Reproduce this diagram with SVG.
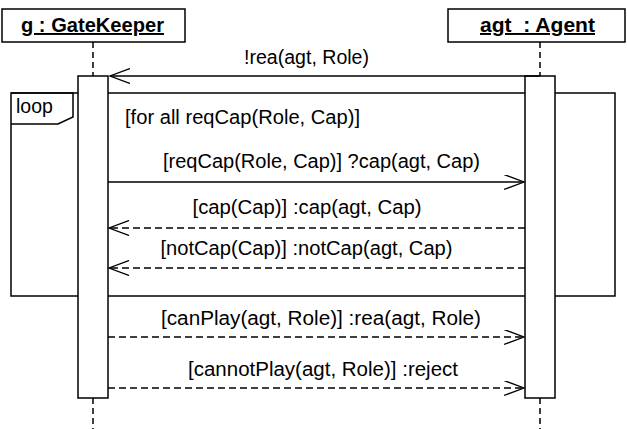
<svg xmlns="http://www.w3.org/2000/svg" width="627" height="429" viewBox="0 0 627 429">
<defs>
<style>
text{font-family:"Liberation Sans",Arial,sans-serif;font-size:19.5px;fill:#000}
.title{font-weight:bold;text-decoration:underline}
.box{fill:#fff;stroke:#000;stroke-width:1.5}
.life{stroke:#000;stroke-width:1.5;stroke-dasharray:6 4;fill:none}
.msg{stroke:#000;stroke-width:1.3;fill:none}
.ret{stroke:#000;stroke-width:1.3;fill:none;stroke-dasharray:7 4}
.frame{fill:none;stroke:#000;stroke-width:1.5}
</style>
<marker id="open" markerWidth="22" markerHeight="16" refX="20" refY="7.5" orient="auto" markerUnits="userSpaceOnUse">
<path d="M0,0 L20,7.5 L0,15" fill="none" stroke="#000" stroke-width="1.3"/>
</marker>
</defs>
<rect width="627" height="429" fill="#fff"/>
<g id="gatekeeper">
<rect class="box" x="2" y="9" width="183" height="33"/>
<text class="title" x="92.5" y="32" text-anchor="middle" textLength="143" lengthAdjust="spacingAndGlyphs">g : GateKeeper</text>
<line class="life" x1="93" y1="42" x2="93" y2="76"/>
<line class="life" x1="93" y1="398" x2="93" y2="429"/>
</g>
<g id="agent">
<rect class="box" x="448" y="9" width="177" height="33"/>
<text class="title" x="537.5" y="32" text-anchor="middle" xml:space="preserve" textLength="115" lengthAdjust="spacingAndGlyphs">agt  : Agent</text>
<line class="life" x1="540" y1="42" x2="540" y2="76"/>
<line class="life" x1="540" y1="398" x2="540" y2="429"/>
</g>
<g id="loop">
<rect class="frame" x="11" y="93" width="604" height="203"/>
<path class="frame" d="M11,93 L73,93 L73,117 L58,124 L11,124"/>
<text x="16" y="113">loop</text>
<text x="125" y="124" textLength="235" lengthAdjust="spacingAndGlyphs">[for all reqCap(Role, Cap)]</text>
</g>
<g id="gatekeeper-activation">
<rect class="box" x="78" y="76" width="30" height="322"/>
</g>
<g id="agent-activation">
<rect class="box" x="525" y="76" width="30" height="322"/>
</g>
<g id="connectors">
<line class="msg" x1="540" y1="76" x2="110" y2="76" marker-end="url(#open)"/>
<line class="msg" x1="108" y1="182" x2="524" y2="182" marker-end="url(#open)"/>
<line class="ret" x1="525" y1="228" x2="109" y2="228" marker-end="url(#open)"/>
<line class="ret" x1="525" y1="268" x2="109" y2="268" marker-end="url(#open)"/>
<line class="ret" x1="108" y1="337" x2="524" y2="337" marker-end="url(#open)"/>
<line class="ret" x1="108" y1="388" x2="524" y2="388" marker-end="url(#open)"/>
</g>
<g id="labels">
<text x="306.5" y="64" text-anchor="middle" textLength="125" lengthAdjust="spacingAndGlyphs">!rea(agt, Role)</text>
<text x="321.5" y="168" text-anchor="middle" textLength="317" lengthAdjust="spacingAndGlyphs">[reqCap(Role, Cap)] ?cap(agt, Cap)</text>
<text x="307" y="214" text-anchor="middle" textLength="229" lengthAdjust="spacingAndGlyphs">[cap(Cap)] :cap(agt, Cap)</text>
<text x="306.5" y="255" text-anchor="middle" textLength="292" lengthAdjust="spacingAndGlyphs">[notCap(Cap)] :notCap(agt, Cap)</text>
<text x="321" y="325" text-anchor="middle" textLength="320" lengthAdjust="spacingAndGlyphs">[canPlay(agt, Role)] :rea(agt, Role)</text>
<text x="323" y="376" text-anchor="middle" textLength="270" lengthAdjust="spacingAndGlyphs">[cannotPlay(agt, Role)] :reject</text>
</g>
</svg>
